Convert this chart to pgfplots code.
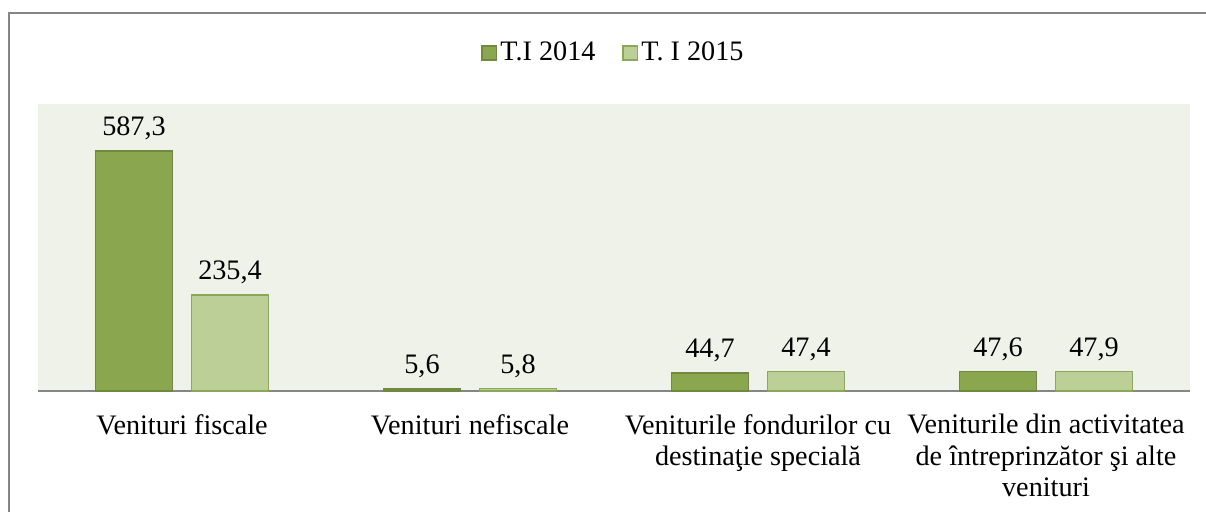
\documentclass[border=0pt]{standalone}
\usepackage{pgfplots}
\pgfplotsset{compat=1.18}
\usepackage{fontspec}
\setmainfont{Liberation Serif}
\definecolor{dg}{RGB}{138,166,79}
\definecolor{dgb}{RGB}{113,137,63}
\definecolor{lg}{RGB}{187,207,150}
\definecolor{lgb}{RGB}{139,168,90}
\definecolor{bgc}{RGB}{239,242,233}
\definecolor{frm}{RGB}{134,134,134}
\begin{document}
\begin{tikzpicture}
\useasboundingbox (0,0) rectangle (603pt,255.5pt);
\clip (0,0) rectangle (603pt,255.5pt);
\draw[frm, line width=1pt] (4.5pt,-10pt) -- (4.5pt,249pt) -- (620pt,249pt);
\begin{axis}[
  at={(19pt,60pt)}, anchor=south west,
  scale only axis, width=576pt, height=143.5pt,
  xmin=-0.5, xmax=3.5, ymin=0, ymax=702,
  axis background/.style={fill=bgc},
  axis x line=bottom, axis y line=none,
  x axis line style={draw=frm, line width=1pt, -},
  xtick={0,1,2,3}, major tick length=0pt,
  xticklabels={Venituri fiscale, Venituri nefiscale, {Veniturile fondurilor cu\\destinaţie specială}, {Veniturile din activitatea\\de întreprinzător şi alte\\venituri}},
  xticklabel style={align=center, anchor=north, inner sep=0pt, yshift=-11.5pt, font=\fontsize{14.1}{15.7}\selectfont},
  ytick=\empty,
  ybar=9.5pt, bar width=38.5pt,
  nodes near coords,
  /pgf/number format/.cd, fixed, fixed zerofill, precision=1, use comma, assume math mode=true,
  /pgfplots/.cd,
  every node near coord/.append style={font=\fontsize{14.1}{15.7}\selectfont, black, anchor=south, inner sep=0pt, yshift=5pt},
  legend style={at={(0.5,1)}, yshift=25.5pt, anchor=center, draw=none, fill=none, font=\fontsize{14.1}{15.7}\selectfont, /tikz/every even column/.append style={column sep=12pt}, /tikz/every odd column/.append style={}, nodes={inner xsep=1.5pt}},
  legend columns=2,
  legend image code/.code={\draw[#1, line width=0.8pt] (0pt,-3.6pt) rectangle (7.2pt,3.6pt);},
  clip=false,
]
\addplot[fill=dg, draw=dgb, line width=0.8pt] coordinates {(0,587.3) (1,5.6) (2,44.7) (3,47.6)};
\addplot[fill=lg, draw=lgb, line width=0.8pt] coordinates {(0,235.4) (1,5.8) (2,47.4) (3,47.9)};
\legend{T.I 2014, T. I 2015}
\end{axis}
\end{tikzpicture}
\end{document}
